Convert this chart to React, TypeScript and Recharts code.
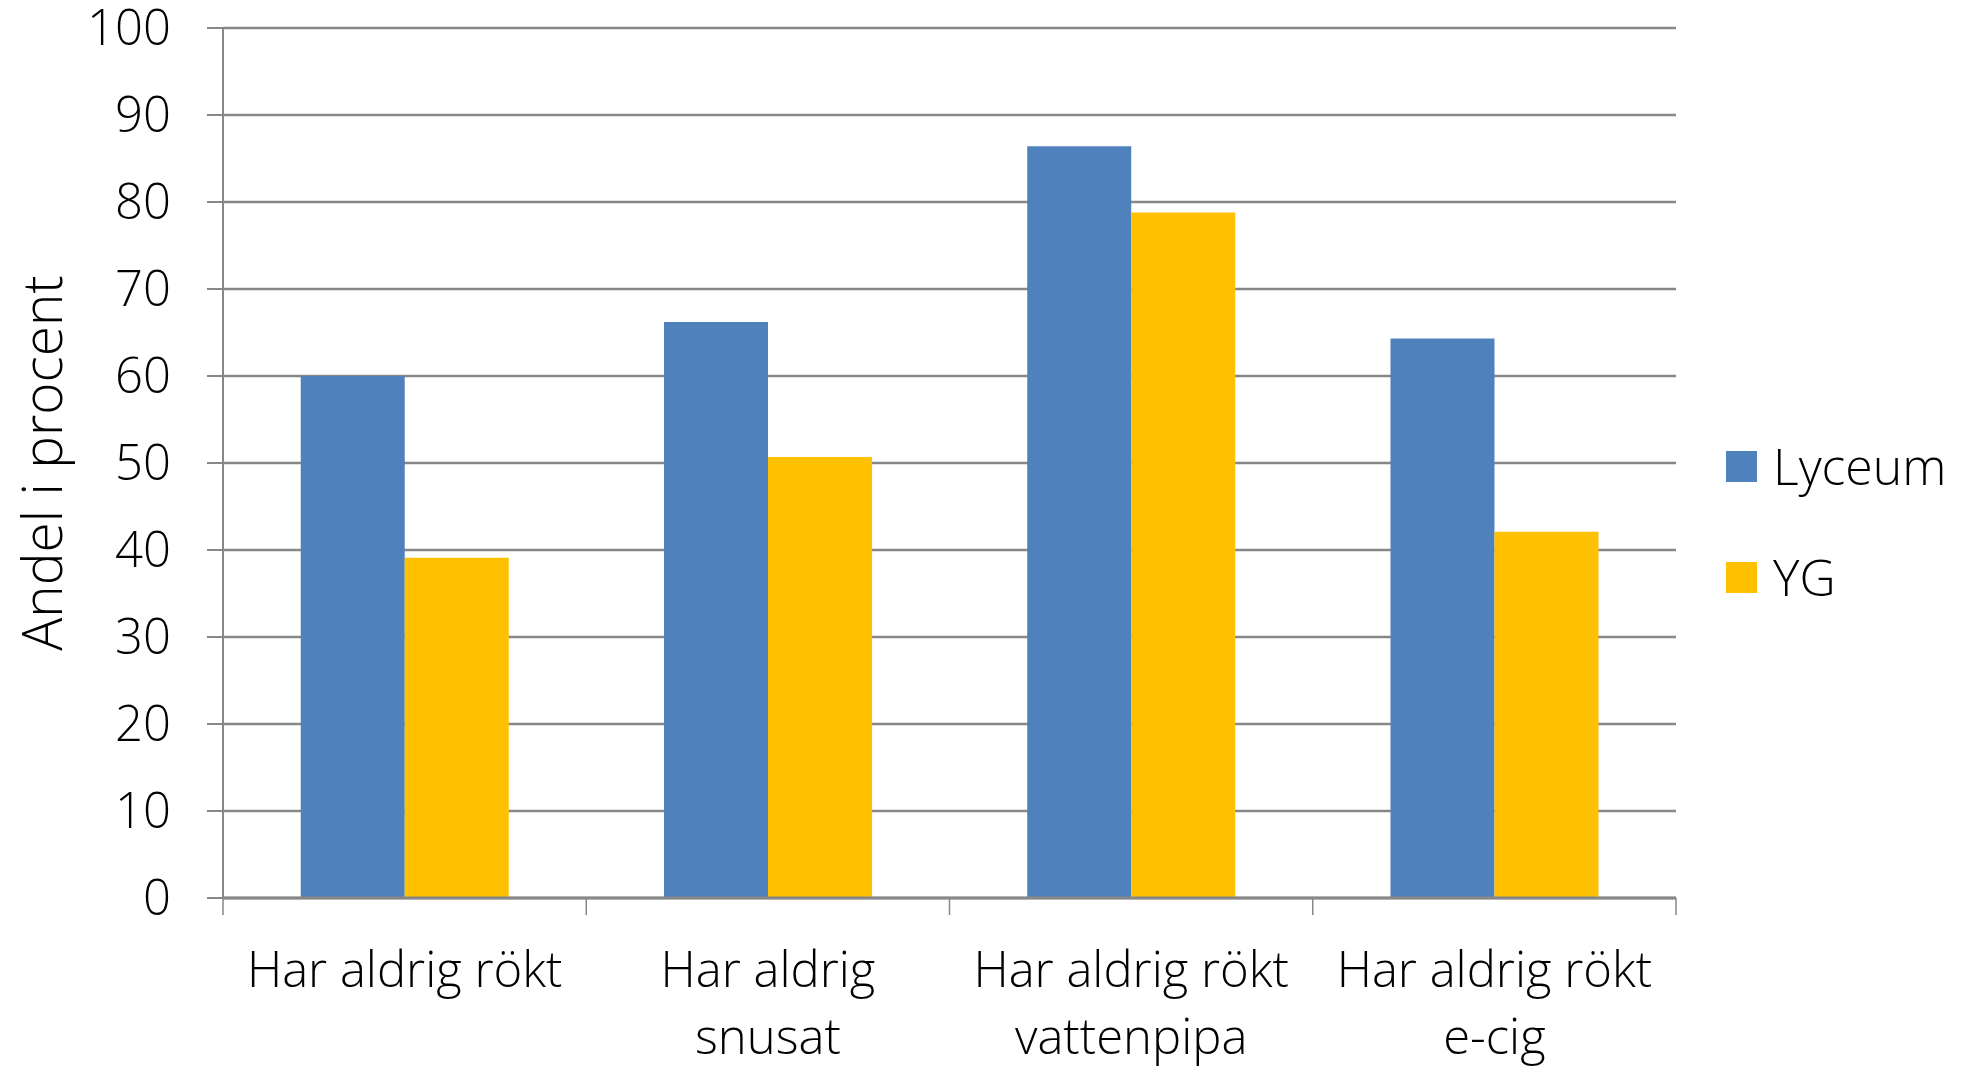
import { BarChart, Bar, XAxis, YAxis, CartesianGrid } from 'recharts';

const categories = ['Har aldrig rökt', 'Har aldrig\nsnusat', 'Har aldrig rökt\nvattenpipa', 'Har aldrig rökt\ne-cig'];
const lyceumValues = [60.0, 66.2, 86.4, 64.3];
const ygValues = [39.1, 50.7, 78.8, 42.1];
const seriesNames = ['Lyceum', 'YG'];
const seriesColors = ['#4F81BD', '#FFC000'];
const yTicks = [0, 10, 20, 30, 40, 50, 60, 70, 80, 90, 100];
const boundaryTicks = [0, 1, 2, 3, 4];
const yAxisTitle = 'Andel i procent';

const data = categories.map((category, i) => ({
  category,
  slot: i,
  Lyceum: lyceumValues[i],
  YG: ygValues[i],
}));

const FONT = '"Open Sans", "Liberation Sans", sans-serif';
const GRID = '#878787';

function CategoryTick({ x, y, payload }: any) {
  const lines = String(payload.value).split('\n');
  return (
    <g transform={`translate(${x},${y})`}>
      <text textAnchor="middle" fontFamily={FONT} fontWeight={300} fontSize={49} fill="#000">
        {lines.map((line, i) => (
          <tspan key={i} x={0} dy={i === 0 ? 88 : 67}>
            {line}
          </tspan>
        ))}
      </text>
    </g>
  );
}

function YTitle({ viewBox }: any) {
  const cx = viewBox.x + 40;
  const cy = viewBox.y + viewBox.height / 2;
  return (
    <text
      x={cx}
      y={cy}
      transform={`rotate(-90, ${cx}, ${cy})`}
      textAnchor="middle"
      dominantBaseline="central"
      fontFamily={FONT}
      fontWeight={300}
      fontSize={55}
      fill="#000"
    >
      {yAxisTitle}
    </text>
  );
}

export default function App() {
  return (
    <div style={{ position: 'absolute', left: 0, top: 0, width: 1964, height: 1068, background: '#fff' }}>
      <BarChart
        width={1964}
        height={1068}
        data={data}
        margin={{ top: 28, right: 288, bottom: 0, left: 0 }}
        barCategoryGap="21.4%"
        barGap={0}
      >
        <CartesianGrid xAxisId="cat" vertical={false} stroke={GRID} strokeWidth={2.5} />
        <XAxis
          xAxisId="b"
          dataKey="slot"
          type="number"
          domain={[0, 4]}
          ticks={boundaryTicks}
          interval={0}
          allowDataOverflow
          tickFormatter={() => ''}
          tickSize={17}
          height={1}
          axisLine={{ stroke: GRID, strokeWidth: 3 }}
          tickLine={{ stroke: GRID, strokeWidth: 1.5 }}
        />
        <XAxis
          xAxisId="cat"
          dataKey="category"
          height={169}
          axisLine={false}
          tickLine={false}
          tickSize={0}
          tickMargin={0}
          interval={0}
          tick={<CategoryTick />}
        />
        <YAxis
          width={223}
          domain={[0, 100]}
          ticks={yTicks}
          interval={0}
          tickSize={16}
          tickMargin={36}
          axisLine={{ stroke: GRID, strokeWidth: 2 }}
          tickLine={{ stroke: GRID, strokeWidth: 2 }}
          tick={{ fontFamily: FONT, fontWeight: 300, fontSize: 49, fill: '#000' }}
          label={<YTitle />}
        />
        <Bar xAxisId="cat" dataKey="Lyceum" fill={seriesColors[0]} isAnimationActive={false} />
        <Bar xAxisId="cat" dataKey="YG" fill={seriesColors[1]} isAnimationActive={false} />
      </BarChart>
      <div style={{ position: 'absolute', left: 1726, top: 434, fontFamily: FONT, fontWeight: 300, fontSize: 50, color: '#000' }}>
        {seriesNames.map((name, i) => (
          <div key={name} style={{ display: 'flex', alignItems: 'center', height: 64, marginBottom: i === 0 ? 47 : 0 }}>
            <div style={{ width: 31, height: 31, background: seriesColors[i], marginRight: 16 }} />
            <span>{name}</span>
          </div>
        ))}
      </div>
    </div>
  );
}
